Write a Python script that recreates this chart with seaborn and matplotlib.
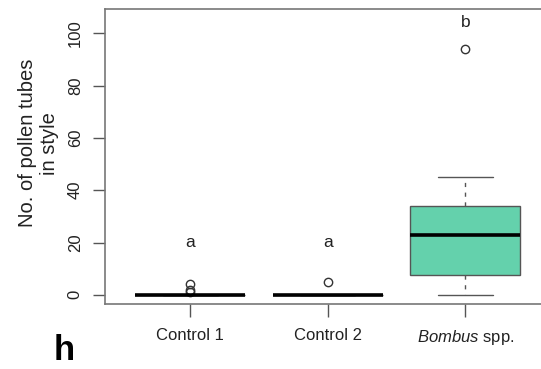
import numpy as np
import pandas as pd
import matplotlib
matplotlib.use("Agg")
import matplotlib.pyplot as plt
import seaborn as sns

# ---- data ----
groups = ["Control 1", "Control 2", "Bombus spp."]
control1 = [0, 0, 0, 0, 0, 0, 0, 0, 0, 0, 0, 0, 1, 2, 4]
control2 = [0, 0, 0, 0, 0, 0, 0, 0, 0, 0, 0, 0, 0, 0, 5]
bombus = [0, 4, 7.5, 15, 23, 30, 34, 45, 94]
letters = ["a", "a", "b"]
letter_y = [20, 20, 104]
tick_labels = ["Control 1", "Control 2", r"$\it{Bombus}$ spp."]
yticks = [0, 20, 40, 60, 80, 100]

df = pd.DataFrame({
    "group": (["Control 1"] * len(control1) + ["Control 2"] * len(control2)
              + ["Bombus spp."] * len(bombus)),
    "value": control1 + control2 + bombus,
})

sns.set_style("white")
plt.rcParams["font.family"] = ["Liberation Sans", "DejaVu Sans"]
plt.rcParams["mathtext.fontset"] = "custom"
plt.rcParams["mathtext.rm"] = "Liberation Sans"
plt.rcParams["mathtext.it"] = "Liberation Sans:italic"

fig = plt.figure(figsize=(5.41, 3.69), dpi=100)
ax = fig.add_axes([105 / 541, 65 / 369, 445.5 / 541, 295 / 369])

fill = "#64D1AC"
sns.boxplot(
    data=df, x="group", y="value", order=groups, hue="group",
    palette={g: fill for g in groups}, legend=False, width=0.8,
    saturation=1, linewidth=1.0, whis=1.5, ax=ax,
    boxprops=dict(edgecolor="#555555", linewidth=1.0),
    medianprops=dict(color="black", linewidth=2.6, solid_capstyle="butt"),
    whiskerprops=dict(color="#555555", linestyle=(0, (3, 4)), linewidth=1.0),
    capprops=dict(color="#555555", linewidth=1.0),
    flierprops=dict(marker="o", markersize=6, markerfacecolor="none",
                    markeredgecolor="#333333", markeredgewidth=1.0),
)

for i, (lab, yy) in enumerate(zip(letters, letter_y)):
    ax.text(i, yy, lab, ha="center", va="center", fontsize=12.5, color="#222222")

ax.set_xlim(-0.62, 2.62)
ax.set_ylim(-3.5, 109.3)
ax.set_yticks(yticks)
ax.set_yticklabels([str(v) for v in yticks], rotation=90, va="center",
                   fontsize=12)
ax.set_xticks(range(len(groups)))
ax.set_xticklabels(tick_labels, fontsize=12)
ax.tick_params(axis="both", direction="out", length=9, width=1.0,
               color="#555555", labelcolor="#222222", bottom=True, left=True)
ax.tick_params(axis="y", pad=7)
ax.tick_params(axis="x", pad=8)
ax.set_xlabel("")
ax.set_ylabel("No. of pollen tubes\nin style", fontsize=14.5, color="#222222",
              linespacing=1.15)
ax.yaxis.set_label_coords(-0.104, 0.545)
for s in ax.spines.values():
    s.set_color("#777777")
    s.set_linewidth(1.2)

fig.text(64 / 541, 1 - 350 / 369, "h", fontsize=25, fontweight="bold",
         ha="center", va="center", color="black")

fig.savefig("out.png", dpi=100)
